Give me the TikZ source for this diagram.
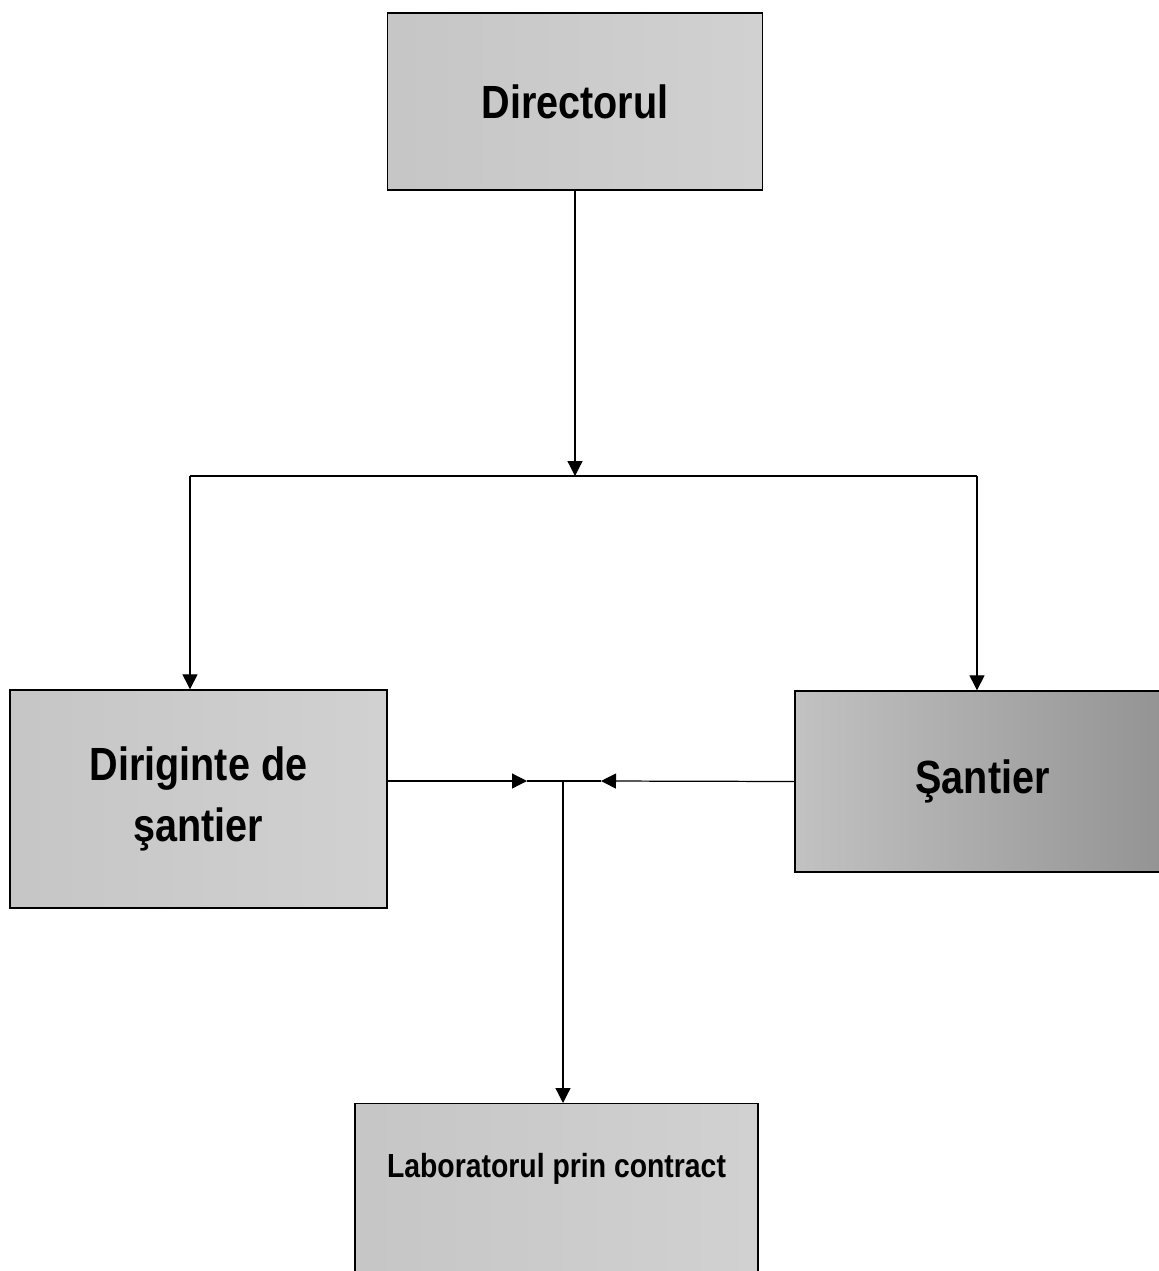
\documentclass[tikz,border=0pt]{standalone}
\usepackage{fontspec}
\setmainfont{Liberation Sans}[FakeStretch=0.85]
\usetikzlibrary{positioning,arrows.meta}

\begin{document}
\begin{tikzpicture}[
  x=0.02cm, y=-0.02cm,
  % Node Styles
  unitbox/.style={rectangle, draw=black, line width=0.8pt, left color=gray!45, right color=gray!36, minimum width=7.5cm, align=center, font=\bfseries\fontsize{26.5}{35}\selectfont},
  darkbox/.style={unitbox, left color=gray!48, right color=gray!85},
  labbox/.style={unitbox, minimum width=8.06cm, inner ysep=0pt, text height=1.48cm, text depth=2.3cm, font=\bfseries\fontsize{19}{23}\selectfont},
  % Arrow Styles
  solidarrow/.style={-{Triangle[length=0.3cm,width=0.3cm]}, line width=0.7pt},
  plainline/.style={line width=0.7pt},
]
\clip (0,0) rectangle (1159,1271);
\fill[white] (0,0) rectangle (1159,1271);

% Organigrama: control calitate santier

\node[unitbox, minimum height=3.54cm] (Directorul) at (575,101.5) {Directorul};
\node[unitbox, minimum width=7.54cm, minimum height=4.36cm] (Diriginte) at (198.5,799) {Diriginte de\\şantier};
\node[darkbox, minimum height=3.62cm] (Santier) at (982.5,781.5) {Şantier};
\node[labbox, anchor=north] (Laborator) at (556.5,1103) {Laboratorul prin contract};

\coordinate (split) at (575,476);
\coordinate (splitL) at (190,476);
\coordinate (splitR) at (977,476);
\coordinate (joinL) at (527,781);
\coordinate (joinR) at (601,781);
\coordinate (join) at (563,781);

\draw[solidarrow] (Directorul.south) -- (split);
\draw[plainline] (splitL) -- (splitR);
\draw[solidarrow] (splitL) -- (splitL |- Diriginte.north);
\draw[solidarrow] (splitR) -- (splitR |- Santier.north);
\draw[solidarrow] (Diriginte.east |- join) -- (joinL);
\draw[solidarrow] (Santier.west) -- (joinR);
\draw[plainline] (joinL) -- (joinR);
\draw[solidarrow] (join) -- (join |- Laborator.north);

\end{tikzpicture}
\end{document}
